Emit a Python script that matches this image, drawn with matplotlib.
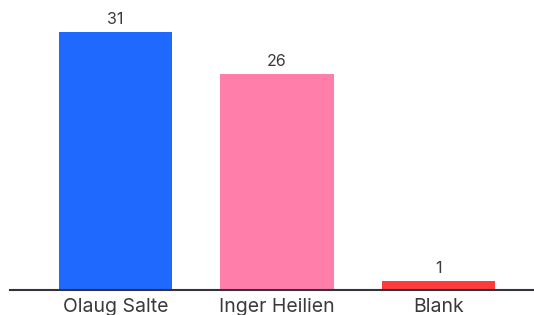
import matplotlib.pyplot as plt

# Data
candidates = ['Olaug Salte', 'Inger Heilien', 'Blank']
votes = [31, 26, 1]
colors = ['#1f69ff', '#ff7eaa', '#ff3b3b']

plt.rcParams['font.family'] = ['Inter', 'DejaVu Sans']

fig = plt.figure(figsize=(5.34, 3.15), dpi=100)
ax = fig.add_axes([10 / 534, 25.5 / 315, 524 / 534, 289.5 / 315])

x = range(len(candidates))
bars = ax.bar(x, votes, width=0.7, color=colors)

for b, v in zip(bars, votes):
    ax.text(b.get_x() + b.get_width() / 2, v + 0.6, str(v),
            ha='center', va='bottom', fontsize=11.5, color='#3a3a3a')

ax.set_xlim(-0.653, 2.591)
ax.set_ylim(0, 34.9)
ax.set_xticks(list(x))
ax.set_xticklabels(candidates, fontsize=14, color='#3a3a3a')
ax.tick_params(axis='x', length=0, pad=6)
ax.set_yticks([])
for s in ['top', 'right', 'left']:
    ax.spines[s].set_visible(False)
ax.spines['bottom'].set_color('#333340')
ax.spines['bottom'].set_linewidth(1.5)

fig.savefig('out.png', dpi=100)
